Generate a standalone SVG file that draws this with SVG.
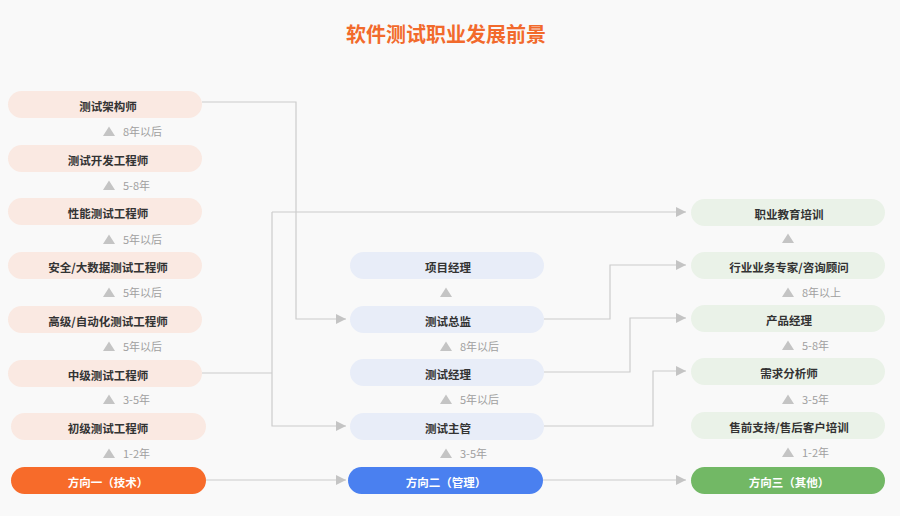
<svg xmlns="http://www.w3.org/2000/svg" width="900" height="516" viewBox="0 0 900 516">
<defs>
<style>
.t{font-family:"Noto Sans CJK SC","Noto Sans",sans-serif;font-size:11.5px;font-weight:700;fill:#333;text-anchor:middle}
.w{font-family:"Noto Sans CJK SC","Noto Sans",sans-serif;font-size:11.5px;font-weight:700;fill:#fff;text-anchor:middle}
.l{font-family:"Noto Sans CJK SC","Noto Sans",sans-serif;font-size:11px;fill:#a0a0a0}
.p1{fill:#fae9e2}
.p2{fill:#e8edf8}
.p3{fill:#eaf2e8}
.tri{fill:#c4c4c4}
.c{fill:none;stroke:#cccccc;stroke-width:1.2}
</style>
<marker id="ah" viewBox="0 0 10 10" refX="10" refY="5" markerWidth="10" markerHeight="10" markerUnits="userSpaceOnUse" orient="auto">
<path d="M0,0 L10,5 L0,10 z" fill="#c4c4c4"/>
</marker>
</defs>
<rect width="900" height="516" fill="#f9f9f9"/>
<text x="446" y="42" font-family="Noto Sans CJK SC, sans-serif" font-size="20" font-weight="700" fill="#f26a2c" text-anchor="middle">软件测试职业发展前景</text>

<g id="connectors">
<path class="c" d="M202,102 H296 V319 H346" marker-end="url(#ah)"/>
<path class="c" d="M202,373 H272"/>
<path class="c" d="M272,212 V426 H346" marker-end="url(#ah)"/>
<path class="c" d="M272,212 H686" marker-end="url(#ah)"/>
<path class="c" d="M544,319 H610 V265 H686" marker-end="url(#ah)"/>
<path class="c" d="M544,372 H630 V318 H686" marker-end="url(#ah)"/>
<path class="c" d="M544,426 H653 V371 H686" marker-end="url(#ah)"/>
<path class="c" d="M206,480 H346" marker-end="url(#ah)"/>
<path class="c" d="M543,480 H686" marker-end="url(#ah)"/>
</g>

<g id="left">
<g id="n-jiagou"><rect class="p1" x="8" y="91" width="194" height="27" rx="13.5"/><text class="t" x="108" y="111">测试架构师</text></g>
<g id="n-kaifa"><rect class="p1" x="8" y="145" width="194" height="27" rx="13.5"/><text class="t" x="108" y="165">测试开发工程师</text></g>
<g id="n-xingneng"><rect class="p1" x="8" y="198" width="194" height="27" rx="13.5"/><text class="t" x="108" y="218">性能测试工程师</text></g>
<g id="n-anquan"><rect class="p1" x="8" y="252" width="194" height="27" rx="13.5"/><text class="t" x="108" y="272">安全/大数据测试工程师</text></g>
<g id="n-gaoji"><rect class="p1" x="8" y="306" width="194" height="27" rx="13.5"/><text class="t" x="108" y="326">高级/自动化测试工程师</text></g>
<g id="n-zhongji"><rect class="p1" x="8" y="360" width="194" height="27" rx="13.5"/><text class="t" x="108" y="380">中级测试工程师</text></g>
<g id="n-chuji"><rect class="p1" x="11" y="413" width="195" height="27" rx="13.5"/><text class="t" x="108" y="433">初级测试工程师</text></g>
<g id="n-fx1"><rect x="11" y="467" width="195" height="27" rx="13.5" fill="#f76b2a"/><text class="w" x="108" y="487">方向一（技术）</text></g>
<g id="left-labels">
<path class="tri" d="M103,136 L109,126.5 L115,136 z"/><text class="l" x="123" y="136">8年以后</text>
<path class="tri" d="M103,190 L109,180.5 L115,190 z"/><text class="l" x="123" y="190">5-8年</text>
<path class="tri" d="M103,244 L109,234.5 L115,244 z"/><text class="l" x="123" y="244">5年以后</text>
<path class="tri" d="M103,297 L109,287.5 L115,297 z"/><text class="l" x="123" y="297">5年以后</text>
<path class="tri" d="M103,351 L109,341.5 L115,351 z"/><text class="l" x="123" y="351">5年以后</text>
<path class="tri" d="M103,404 L109,394.5 L115,404 z"/><text class="l" x="123" y="404">3-5年</text>
<path class="tri" d="M103,458 L109,448.5 L115,458 z"/><text class="l" x="123" y="458">1-2年</text>
</g>
</g>

<g id="middle">
<g id="n-xiangmu"><rect class="p2" x="350" y="252" width="194" height="27" rx="13.5"/><text class="t" x="448" y="272">项目经理</text></g>
<g id="n-zongjian"><rect class="p2" x="350" y="306" width="194" height="27" rx="13.5"/><text class="t" x="448" y="326">测试总监</text></g>
<g id="n-jingli"><rect class="p2" x="350" y="359" width="194" height="27" rx="13.5"/><text class="t" x="448" y="379">测试经理</text></g>
<g id="n-zhuguan"><rect class="p2" x="350" y="413" width="194" height="27" rx="13.5"/><text class="t" x="448" y="433">测试主管</text></g>
<g id="n-fx2"><rect x="348" y="467" width="195" height="27" rx="13.5" fill="#4a80f0"/><text class="w" x="446" y="487">方向二（管理）</text></g>
<g id="middle-labels">
<path class="tri" d="M440,297 L446,287.5 L452,297 z"/>
<path class="tri" d="M440,351 L446,341.5 L452,351 z"/><text class="l" x="460" y="351">8年以后</text>
<path class="tri" d="M440,404 L446,394.5 L452,404 z"/><text class="l" x="460" y="404">5年以后</text>
<path class="tri" d="M440,458 L446,448.5 L452,458 z"/><text class="l" x="460" y="458">3-5年</text>
</g>
</g>

<g id="right">
<g id="n-jiaoyu"><rect class="p3" x="691" y="199" width="194" height="27" rx="13.5"/><text class="t" x="789" y="219">职业教育培训</text></g>
<g id="n-zhuanjia"><rect class="p3" x="691" y="252" width="194" height="27" rx="13.5"/><text class="t" x="789" y="272">行业业务专家/咨询顾问</text></g>
<g id="n-chanpin"><rect class="p3" x="691" y="305" width="194" height="27" rx="13.5"/><text class="t" x="789" y="325">产品经理</text></g>
<g id="n-xuqiu"><rect class="p3" x="691" y="358" width="194" height="27" rx="13.5"/><text class="t" x="789" y="378">需求分析师</text></g>
<g id="n-shouqian"><rect class="p3" x="691" y="412" width="194" height="27" rx="13.5"/><text class="t" x="789" y="432">售前支持/售后客户培训</text></g>
<g id="n-fx3"><rect x="691" y="467" width="194" height="27" rx="13.5" fill="#72b865"/><text class="w" x="789" y="487">方向三（其他）</text></g>
<g id="right-labels">
<path class="tri" d="M782,243 L788,233.5 L794,243 z"/>
<path class="tri" d="M782,297 L788,287.5 L794,297 z"/><text class="l" x="802" y="297">8年以上</text>
<path class="tri" d="M782,350 L788,340.5 L794,350 z"/><text class="l" x="802" y="350">5-8年</text>
<path class="tri" d="M782,404 L788,394.5 L794,404 z"/><text class="l" x="802" y="404">3-5年</text>
<path class="tri" d="M782,457 L788,447.5 L794,457 z"/><text class="l" x="802" y="457">1-2年</text>
</g>
</g>
</svg>
